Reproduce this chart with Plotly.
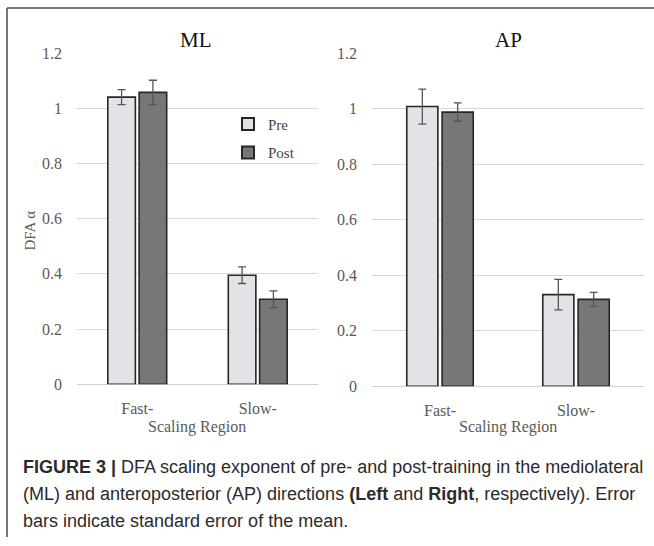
import plotly.graph_objects as go

categories = ["Fast-", "Slow-"]
ml_pre = [1.04, 0.395]
ml_pre_err = [0.027, 0.030]
ml_post = [1.057, 0.308]
ml_post_err = [0.044, 0.030]
ap_pre = [1.007, 0.330]
ap_pre_err = [0.063, 0.055]
ap_post = [0.987, 0.313]
ap_post_err = [0.033, 0.025]
y_ticks = [0, 0.2, 0.4, 0.6, 0.8, 1, 1.2]
y_ticktext = ["0", "0.2", "0.4", "0.6", "0.8", "1", "1.2"]

W, H = 654, 546
PRE_FILL = "#e4e2e6"
POST_FILL = "#777777"
OUTLINE = "#262626"
ERR = "#555555"
SERIF = "Liberation Serif, Times New Roman, serif"
SANS = "Liberation Sans, Arial, sans-serif"

# effective drawing area observed in the viewer: top offset 8px, height 530px
TOP_OFF = 8
EFF_H = 530


def px(x):
    return x / W


def py(y):
    return 1 - (y - TOP_OFF) / EFF_H


fig = go.Figure()


def add_bar(name, x, y, err, fill, xa, ya, show):
    fig.add_trace(go.Bar(
        name=name, x=x, y=y, xaxis=xa, yaxis=ya,
        marker=dict(color=fill, line=dict(color=OUTLINE, width=1.6)),
        error_y=dict(type="data", array=err, color=ERR, thickness=1.3, width=4),
        showlegend=show, legendgroup=name,
    ))


add_bar("Pre", categories, ml_pre, ml_pre_err, PRE_FILL, "x", "y", True)
add_bar("Post", categories, ml_post, ml_post_err, POST_FILL, "x", "y", True)
add_bar("Pre", categories, ap_pre, ap_pre_err, PRE_FILL, "x2", "y2", False)
add_bar("Post", categories, ap_post, ap_post_err, POST_FILL, "x2", "y2", False)

tickfont = dict(family=SERIF, size=16, color="#595959")
yax = dict(range=[0, 1.2], tickvals=y_ticks, ticktext=y_ticktext, showgrid=True,
           gridcolor="#d9d9d9", gridwidth=1, zeroline=True, zerolinecolor="#d0d0d0",
           zerolinewidth=1.2, showline=False, tickfont=tickfont, ticks="",
           ticklabelstandoff=14, fixedrange=True)
xax = dict(showgrid=False, showline=False, ticks="", tickfont=tickfont,
           ticklabelstandoff=13, fixedrange=True)

fig.update_layout(
    width=W, height=H,
    margin=dict(l=0, r=0, t=0, b=0),
    paper_bgcolor="white", plot_bgcolor="white",
    barmode="group", bargap=0.48, bargroupgap=0.12,
    xaxis=dict(domain=[px(77), px(318)], anchor="y", **xax),
    yaxis=dict(domain=[py(385), py(53)], anchor="x", **yax),
    xaxis2=dict(domain=[px(372), px(644)], anchor="y2", **xax),
    yaxis2=dict(domain=[py(387), py(53)], anchor="x2", **yax),
    legend=dict(x=px(228), y=py(108), xanchor="left", yanchor="top",
                font=dict(family=SERIF, size=15, color="#444444"),
                bgcolor="rgba(0,0,0,0)", tracegroupgap=6, itemwidth=30,
                itemsizing="constant"),
    showlegend=True,
)

annotations = [
    dict(text="ML", x=px(196), y=py(40), font=dict(family=SERIF, size=21, color="#111111")),
    dict(text="AP", x=px(508), y=py(40), font=dict(family=SERIF, size=21, color="#111111")),
    dict(text="DFA α", x=px(30), y=py(231), textangle=-90,
         font=dict(family=SERIF, size=15, color="#595959")),
    dict(text="Scaling Region", x=px(197), y=py(428),
         font=dict(family=SERIF, size=16, color="#595959")),
    dict(text="Scaling Region", x=px(508), y=py(428),
         font=dict(family=SERIF, size=16, color="#595959")),
]
for a in annotations:
    fig.add_annotation(xref="paper", yref="paper", showarrow=False,
                       xanchor="center", yanchor="middle", **a)

caption = [
    "<b>FIGURE 3 |</b> DFA scaling exponent of pre- and post-training in the mediolateral",
    "(ML) and anteroposterior (AP) directions <b>(Left</b> and <b>Right</b>, respectively). Error",
    "bars indicate standard error of the mean.",
]
for i, line in enumerate(caption):
    fig.add_annotation(xref="paper", yref="paper", showarrow=False,
                       x=px(21), y=py(468 + 27 * i), xanchor="left", yanchor="middle",
                       text=line, font=dict(family=SANS, size=18, color="#2b2b2b"))

# frame lines of the figure panel
fig.add_shape(type="line", xref="paper", yref="paper", x0=px(7), x1=1, y0=py(8), y1=py(8),
              line=dict(color="#4a4a4a", width=1.5))
fig.add_shape(type="line", xref="paper", yref="paper", x0=px(7), x1=px(7), y0=py(8), y1=0,
              line=dict(color="#4a4a4a", width=1.5))

fig.write_html("out.html", config={"displayModeBar": False},
               post_script="document.body.style.margin='0';document.body.style.overflow='hidden';")
